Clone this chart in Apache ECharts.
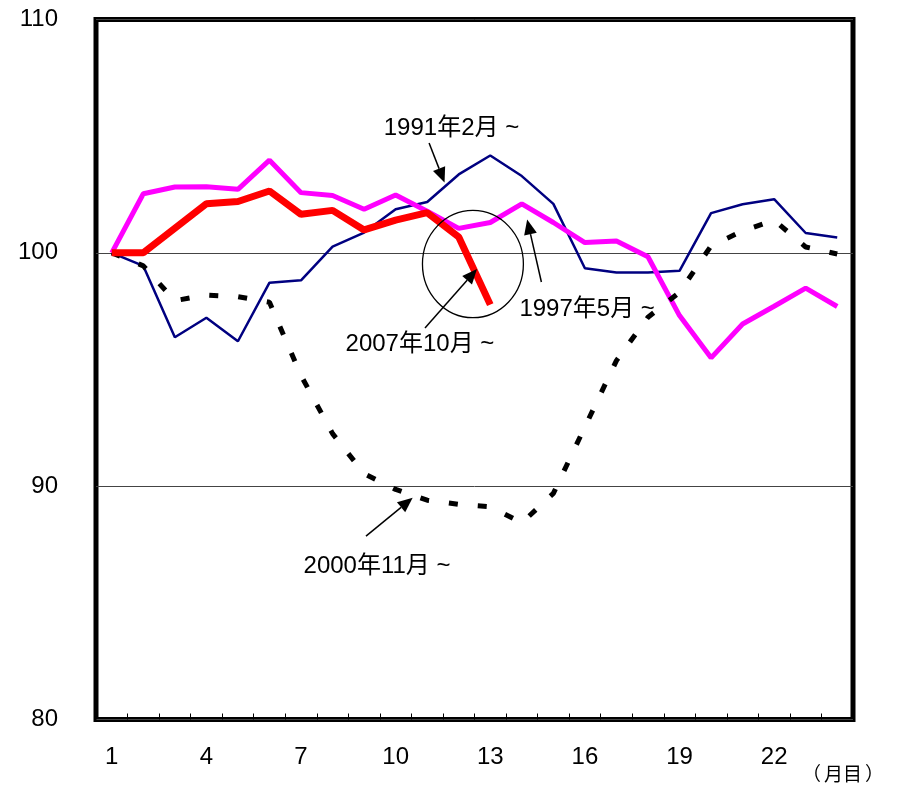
<!DOCTYPE html>
<html>
<head>
<meta charset="utf-8">
<script src="https://cdn.jsdelivr.net/npm/echarts@6/dist/echarts.min.js"></script>
<style>
  html, body { margin: 0; padding: 0; background: #fff; }
  #chart { width: 897px; height: 787px; }
</style>
</head>
<body>
<div id="chart"></div>
<script>
// Months elapsed since each peak (1 = peak month)
const months = ['1','2','3','4','5','6','7','8','9','10','11','12',
                '13','14','15','16','17','18','19','20','21','22','23','24'];

// Index values, peak month = 100
const s1991 = [100, 99.44, 96.38, 97.22, 96.21, 98.72, 98.82, 100.27, 100.87, 101.87, 102.18, 103.36,
               104.17, 103.29, 102.1, 99.34, 99.16, 99.16, 99.23, 101.7, 102.08, 102.3, 100.85, 100.66];
const s1997 = [100, 102.53, 102.82, 102.83, 102.72, 103.97, 102.58, 102.46, 101.87, 102.48, 101.78, 101.05,
               101.3, 102.1, 101.3, 100.44, 100.51, 99.83, 97.31, 95.5, 96.95, 97.71, 98.49, 97.7];
const s2000 = [100, 99.44, 97.95, 98.19, 98.12, 97.88, 94.74, 92.25, 90.54, 89.86, 89.4, 89.22,
               89.12, 88.43, 89.69, 92.54, 95.38, 97.24, 98.31, 100.3, 100.94, 101.4, 100.25, 99.95];
const s2007 = [100, 100, 101.05, 102.1, 102.2, 102.65, 101.65, 101.82, 100.98, 101.4, 101.72, 100.68, 97.78];

// Y axis range and tick step
const yMin = 80, yMax = 110, yStep = 10;

const FONT = '"Liberation Sans", Arial, "Noto Sans CJK JP", sans-serif';
const CJK_FONT = '"Noto Sans CJK JP", sans-serif';

const chart = echarts.init(document.getElementById('chart'), null, { renderer: 'canvas' });

chart.setOption({
  animation: false,
  backgroundColor: '#fff',
  grid: {
    left: 96, right: 44, top: 19.5, bottom: 67.5,
    show: true, borderColor: '#000', borderWidth: 5, backgroundColor: 'transparent'
  },
  xAxis: {
    type: 'category',
    data: months,
    boundaryGap: true,
    axisLine: { show: false },
    axisTick: { show: true, inside: true, length: 6, interval: 0, lineStyle: { color: '#000', width: 1 } },
    axisLabel: { interval: 2, color: '#000', fontSize: 24, fontFamily: FONT, margin: 26 },
    splitLine: { show: false }
  },
  yAxis: {
    type: 'value',
    min: yMin, max: yMax, interval: yStep,
    axisLine: { show: false },
    axisTick: { show: false },
    axisLabel: { color: '#000', fontSize: 24, fontFamily: FONT, margin: 38 },
    splitLine: { show: true, lineStyle: { color: '#444', width: 1 } }
  },
  series: [
    {
      name: '1991年2月～', type: 'line', data: s1991, showSymbol: false, z: 2,
      lineStyle: { color: '#000080', width: 2.5 }
    },
    {
      name: '1997年5月～', type: 'line', data: s1997, showSymbol: false, z: 3,
      lineStyle: { color: '#ff00ff', width: 5 }
    },
    {
      name: '2000年11月～', type: 'line', data: s2000, showSymbol: false, z: 4,
      lineStyle: { color: '#000', width: 5, type: [9, 20], cap: 'butt' }
    },
    {
      name: '2007年10月～', type: 'line', data: s2007, showSymbol: false, z: 5,
      lineStyle: { color: '#ff0000', width: 7 }
    }
  ]
});

// Map (month, value) to pixels through the chart's own axes
const p0 = chart.convertToPixel({ gridIndex: 0 }, [0, yMin]);
const p1 = chart.convertToPixel({ gridIndex: 0 }, [1, yMax]);
function at(m, v) {
  const x = p0[0] + (m - 1) * (p1[0] - p0[0]);
  const y = p0[1] + (v - yMin) / (yMax - yMin) * (p1[1] - p0[1]);
  return [x, y];
}

// Leader line with a filled arrowhead at the 'to' end
function arrow(from, to) {
  const a = at(from[0], from[1]);
  const b = at(to[0], to[1]);
  const dx = b[0] - a[0], dy = b[1] - a[1];
  const len = Math.hypot(dx, dy);
  const ux = dx / len, uy = dy / len;
  const L = 15, W = 6.5;
  const bx = b[0] - ux * L, by = b[1] - uy * L;
  return [
    { type: 'line', z: 20, shape: { x1: a[0], y1: a[1], x2: bx, y2: by },
      style: { stroke: '#000', lineWidth: 1.5 } },
    { type: 'polygon', z: 20,
      shape: { points: [[b[0], b[1]], [bx - uy * W, by + ux * W], [bx + uy * W, by - ux * W]] },
      style: { fill: '#000' } }
  ];
}

function label(text, m, v) {
  const p = at(m, v);
  return {
    type: 'text', z: 20, x: p[0], y: p[1],
    style: { text: text, fill: '#000', fontSize: 24, fontFamily: FONT, align: 'center', verticalAlign: 'middle' }
  };
}

// Circle around the latest decline
const c = at(12.45, 99.52);
const cr = at(12.45 + 1.6, 99.52 + 2.3);

const elements = [
  label('1991年2月 ~', 11.77, 105.35),
  ...arrow([11.06, 104.71], [11.55, 103.01]),
  label('1997年5月 ~', 16.07, 97.59),
  ...arrow([14.62, 98.75], [14.17, 101.43]),
  label('2007年10月 ~', 10.77, 96.09),
  ...arrow([10.93, 96.78], [12.58, 99.31]),
  label('2000年11月 ~', 9.41, 86.58),
  ...arrow([9.06, 87.86], [10.54, 89.5]),
  {
    type: 'ellipse', z: 19,
    shape: { cx: c[0], cy: c[1], rx: Math.abs(cr[0] - c[0]), ry: Math.abs(cr[1] - c[1]) },
    style: { fill: 'none', stroke: '#000', lineWidth: 1.3 }
  },
  {
    type: 'text', z: 20, right: 13, bottom: 4,
    style: {
      text: '{p|（}{k|月目}{p|）}',
      rich: {
        p: { fontSize: 19, fontFamily: CJK_FONT, color: '#000', width: 19, align: 'center' },
        k: { fontSize: 19, fontFamily: CJK_FONT, color: '#000', padding: [0, 3, 0, 3] }
      }
    }
  }
];

chart.setOption({ graphic: { elements: elements } });
</script>
</body>
</html>
